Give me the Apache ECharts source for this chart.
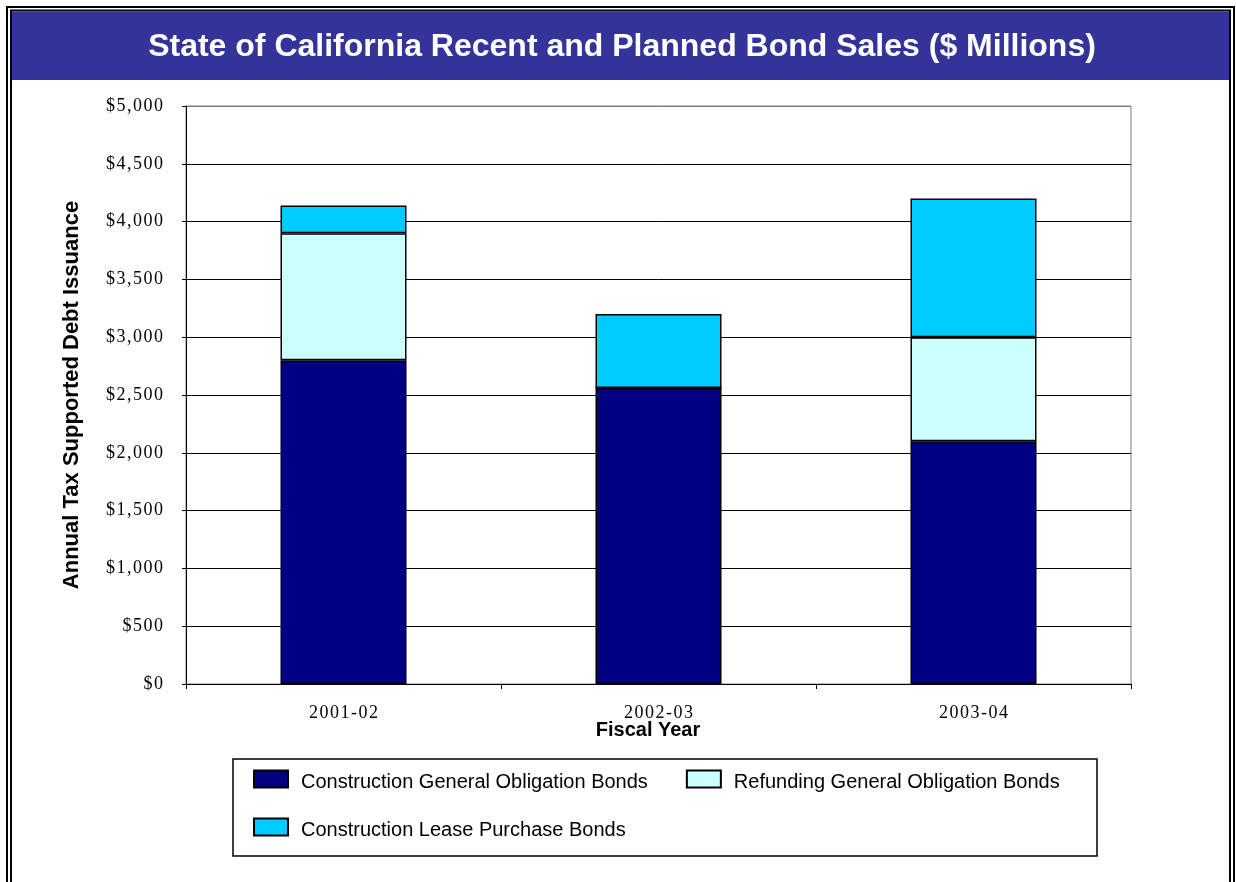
<!DOCTYPE html>
<html>
<head>
<meta charset="utf-8">
<script src="https://cdn.jsdelivr.net/npm/echarts@6/dist/echarts.min.js"></script>
<style>
  html, body { margin: 0; padding: 0; background: #ffffff; }
  #chart { width: 1236px; height: 882px; }
</style>
</head>
<body>
<div id="chart"></div>
<script>
// ---- data ----
const titleText = 'State of California Recent and Planned Bond Sales ($ Millions)';
const categories = ['2001-02', '2002-03', '2003-04'];
const seriesNames = ['Construction General Obligation Bonds', 'Refunding General Obligation Bonds', 'Construction Lease Purchase Bonds'];
const constructionGO = [2800, 2560, 2100];
const refundingGO = [1100, 0, 900];
const leasePurchase = [240, 640, 1200];
const yMin = 0, yMax = 5000, yStep = 500;
const yAxisTitle = 'Annual Tax Supported Debt Issuance';
const xAxisTitle = 'Fiscal Year';

const colors = ['#000080', '#CCFFFF', '#00CCFF'];
const serif = '"Times New Roman", "Liberation Serif", serif';
const sans = 'Arial, "Liberation Sans", Helvetica, sans-serif';
const spaced = s => String(s).split('').join('\u200A');

const splitColors = [];
for (let v = yMin; v <= yMax; v += yStep) splitColors.push(v === yMax ? '#808080' : '#000000');

const chart = echarts.init(document.getElementById('chart'), null, { renderer: 'canvas' });
const seriesData = [constructionGO, refundingGO, leasePurchase];

const legendText = {
  fontFamily: sans, fontSize: 20, color: '#000', padding: [0, 0, 0, 8],
  rich: { t: { fontFamily: sans, fontSize: 20, color: '#000', lineHeight: 24, padding: [7, 0, 0, 0] } }
};
const legendFmt = name => '{t|' + name + '}';

chart.setOption({
  animation: false,
  backgroundColor: '#ffffff',
  grid: { left: 186, right: 105, top: 106, bottom: 198, show: true, borderColor: '#808080', borderWidth: 1 },
  xAxis: {
    type: 'category',
    data: categories,
    axisLine: { lineStyle: { color: '#000', width: 1 } },
    axisTick: { show: true, length: 5, lineStyle: { color: '#000' } },
    axisLabel: { fontFamily: serif, fontSize: 18, color: '#000', margin: 20, formatter: v => spaced(v) }
  },
  yAxis: {
    type: 'value',
    min: yMin, max: yMax, interval: yStep,
    name: yAxisTitle,
    nameLocation: 'middle',
    nameGap: 103,
    nameTextStyle: { fontFamily: sans, fontWeight: 'bold', fontSize: 22, color: '#000' },
    axisLine: { show: true, lineStyle: { color: '#000', width: 1 } },
    axisTick: { show: true, length: 4, lineStyle: { color: '#000' } },
    axisLabel: { fontFamily: serif, fontSize: 18, color: '#000', margin: 23,
      formatter: v => spaced('$' + Number(v).toLocaleString('en-US')) },
    splitLine: { show: true, lineStyle: { color: splitColors, width: 1 } }
  },
  legend: [
    { data: seriesNames.slice(0, 2), left: 248, top: 760.5, orient: 'horizontal', formatter: legendFmt,
      itemWidth: 34, itemHeight: 17, itemGap: 38, icon: 'rect', textStyle: legendText },
    { data: seriesNames.slice(2), left: 248, top: 808.5, orient: 'horizontal', formatter: legendFmt,
      itemWidth: 34, itemHeight: 17, itemGap: 38, icon: 'rect', textStyle: legendText }
  ],
  series: seriesNames.map((name, i) => ({
    name: name,
    type: 'bar',
    stack: 'total',
    barWidth: '40%',
    data: seriesData[i],
    itemStyle: { color: colors[i], borderColor: '#000', borderWidth: 1.5 },
    emphasis: { disabled: true }
  })),
  graphic: [
    { type: 'rect', shape: { x: 7, y: 7, width: 1227, height: 900 }, style: { fill: 'none', stroke: '#000', lineWidth: 2 }, silent: true },
    { type: 'rect', shape: { x: 11, y: 10.5, width: 1219, height: 900 }, style: { fill: 'none', stroke: '#000', lineWidth: 2 }, silent: true },
    { type: 'rect', shape: { x: 12, y: 11.5, width: 1217, height: 68.5 }, style: { fill: '#333399' }, silent: true },
    { type: 'text', x: 622, y: 47, style: { text: titleText, fill: '#ffffff', font: 'bold 32px ' + sans, textAlign: 'center', textVerticalAlign: 'middle' }, silent: true },
    { type: 'rect', z: -1, shape: { x: 233, y: 759, width: 864, height: 97 }, style: { fill: '#ffffff', stroke: '#000', lineWidth: 1.5 }, silent: true },
    { type: 'text', x: 648, y: 730, style: { text: xAxisTitle, fill: '#000', font: 'bold 20px ' + sans, textAlign: 'center', textVerticalAlign: 'middle' }, silent: true }
  ]
});
</script>
</body>
</html>
